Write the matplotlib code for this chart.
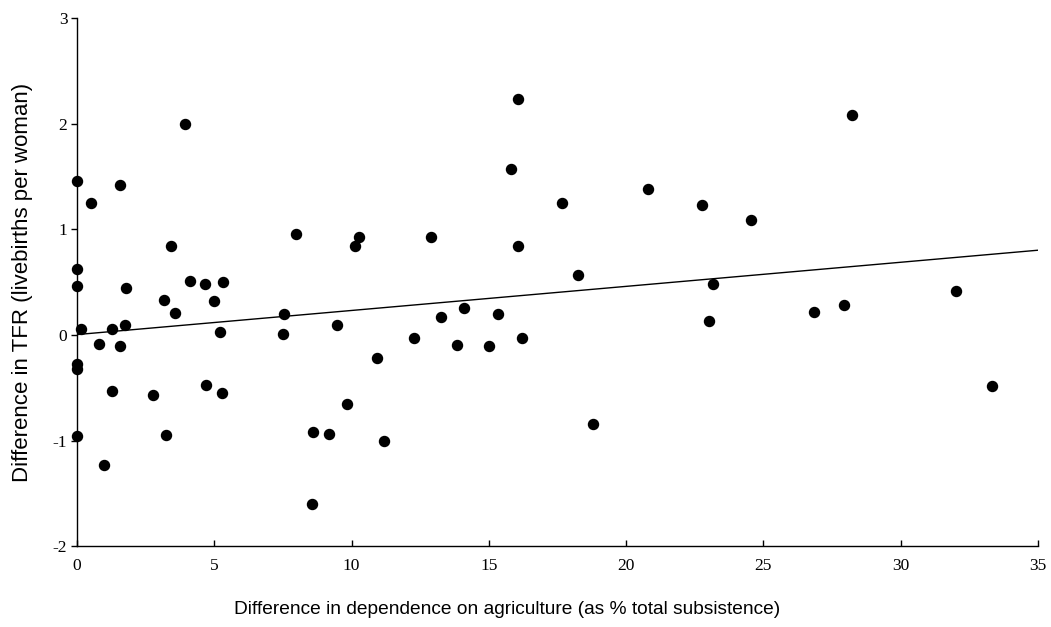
import matplotlib.pyplot as plt
import numpy as np

# difference in dependence on agriculture (%) and difference in TFR
agri_diff = [0.0, 0.0, 0.0, 0.13, 0.0, 0.0, 0.0, 0.51, 0.8, 0.97,
             1.27, 1.28, 1.57, 1.58, 1.75, 1.79, 2.76, 3.16, 3.23, 3.41,
             3.55, 3.95, 4.12, 4.65, 4.71, 5.0, 5.19, 5.32, 5.28, 7.55,
             7.51, 7.96, 8.54, 8.61, 9.17, 9.48, 9.82, 10.11, 10.26, 10.91,
             11.19, 12.28, 12.88, 13.26, 13.84, 14.11, 15.0, 15.33, 15.8, 16.07,
             16.07, 16.2, 17.67, 18.25, 18.78, 20.8, 22.75, 23.02, 23.15, 24.54,
             26.85, 27.92, 28.22, 32.0, 33.33]
tfr_diff = [1.46, 0.63, 0.46, 0.054, -0.27, -0.32, -0.95, 1.25, -0.08, -1.23,
            0.054, -0.53, 1.42, -0.10, 0.10, 0.45, -0.57, 0.33, -0.945, 0.84,
            0.21, 2.0, 0.51, 0.48, -0.47, 0.32, 0.025, 0.50, -0.55, 0.196,
            0.007, 0.955, -1.6, -0.92, -0.94, 0.098, -0.65, 0.84, 0.93, -0.22,
            -1.0, -0.03, 0.93, 0.17, -0.09, 0.26, -0.10, 0.20, 1.57, 2.23,
            0.84, -0.03, 1.25, 0.57, -0.84, 1.38, 1.23, 0.13, 0.48, 1.09,
            0.215, 0.28, 2.085, 0.42, -0.48]

# fitted regression line
fit_intercept = 0.005
fit_slope = 0.0228

fig = plt.figure(figsize=(10.51, 6.27), dpi=100)
ax = fig.add_axes([0.0733, 0.1284, 0.9143, 0.8429])

ax.scatter(agri_diff, tfr_diff, s=52, color="black", zorder=3, clip_on=False)
xs = np.array([0, 35])
ax.plot(xs, fit_intercept + fit_slope * xs, color="black", lw=1.0)

ax.set_xlim(0, 35)
ax.set_ylim(-2, 3)
ax.set_xticks(range(0, 36, 5))
ax.set_yticks(range(-2, 4))
ax.set_yticklabels(["-2", "-1", "0", "1", "2", "3"])

for s in ["top", "right"]:
    ax.spines[s].set_visible(False)
for s in ["left", "bottom"]:
    ax.spines[s].set_linewidth(1.0)

ax.tick_params(axis="y", direction="out", length=4, width=1, pad=3)
ax.tick_params(axis="x", direction="in", length=4, width=1, pad=8)
for lab in ax.get_xticklabels() + ax.get_yticklabels():
    lab.set_fontfamily("Liberation Serif")
    lab.set_fontsize(12.5)

ax.set_xlabel("Difference in dependence on agriculture (as % total subsistence)",
              family="Liberation Sans", fontsize=13.8, labelpad=20, x=0.448)
ax.set_ylabel("Difference in TFR (livebirths per woman)",
              family="Liberation Sans", fontsize=16, labelpad=14)

fig.savefig("out.png", dpi=100)
